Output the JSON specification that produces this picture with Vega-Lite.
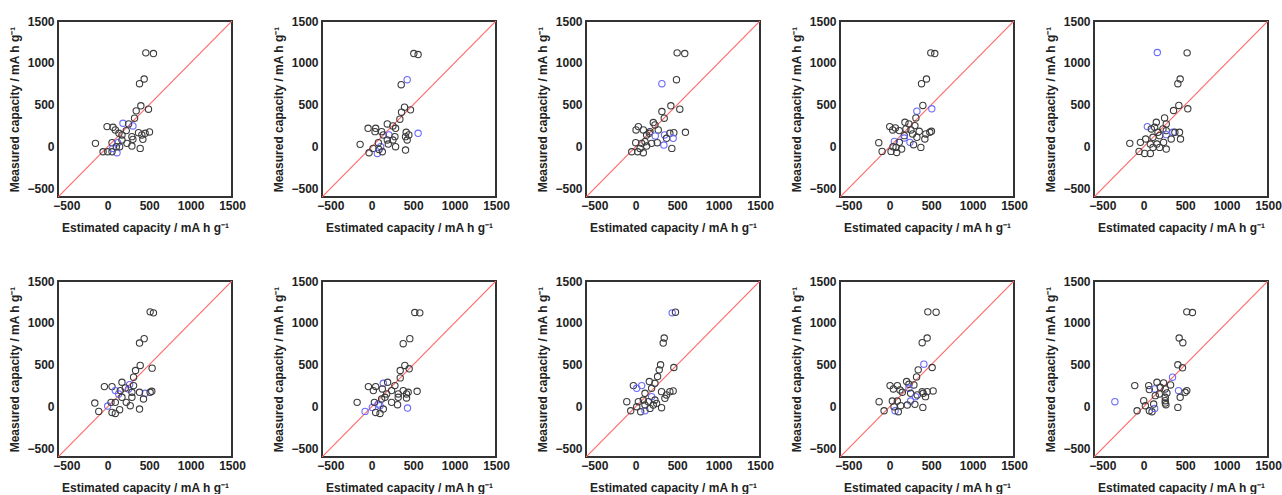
{
"$schema":"https://vega.github.io/schema/vega-lite/v6.json",
"padding":{"left":7,"top":14,"right":0,"bottom":0},
"config":{"view":{"stroke":"#333333","strokeWidth":2},
"axis":{"domain":false,"ticks":false,"grid":false,"labelFlush":false,"labelOverlap":false,"format":"d","labelFont":"Liberation Sans","labelFontWeight":"bold","labelFontSize":12,"labelColor":"#222222","titleFont":"Liberation Sans","titleFontWeight":"bold","titleFontSize":12,"titleColor":"#222222"},
"axisX":{"labelPadding":3,"titlePadding":11},
"axisY":{"labelPadding":4,"titlePadding":5}},
"datasets":{
"diag":[{"v":-600},{"v":1500}],
"pts":[
{"panel":1,"est":460,"meas":1120,"set":"train"},{"panel":1,"est":552,"meas":1112,"set":"train"},{"panel":1,"est":440,"meas":808,"set":"train"},{"panel":1,"est":384,"meas":752,"set":"train"},{"panel":1,"est":400,"meas":488,"set":"train"},{"panel":1,"est":492,"meas":448,"set":"train"},{"panel":1,"est":344,"meas":428,"set":"train"},{"panel":1,"est":324,"meas":340,"set":"train"},{"panel":1,"est":184,"meas":280,"set":"test"},{"panel":1,"est":304,"meas":248,"set":"test"},{"panel":1,"est":252,"meas":272,"set":"train"},{"panel":1,"est":-8,"meas":240,"set":"train"},{"panel":1,"est":64,"meas":232,"set":"train"},{"panel":1,"est":92,"meas":200,"set":"train"},{"panel":1,"est":136,"meas":160,"set":"train"},{"panel":1,"est":172,"meas":140,"set":"train"},{"panel":1,"est":224,"meas":192,"set":"train"},{"panel":1,"est":292,"meas":120,"set":"train"},{"panel":1,"est":304,"meas":88,"set":"train"},{"panel":1,"est":372,"meas":168,"set":"train"},{"panel":1,"est":412,"meas":140,"set":"train"},{"panel":1,"est":452,"meas":160,"set":"train"},{"panel":1,"est":504,"meas":176,"set":"train"},{"panel":1,"est":424,"meas":88,"set":"train"},{"panel":1,"est":-148,"meas":40,"set":"train"},{"panel":1,"est":-56,"meas":-60,"set":"train"},{"panel":1,"est":0,"meas":-60,"set":"train"},{"panel":1,"est":52,"meas":48,"set":"train"},{"panel":1,"est":60,"meas":-20,"set":"test"},{"panel":1,"est":112,"meas":-72,"set":"test"},{"panel":1,"est":120,"meas":48,"set":"test"},{"panel":1,"est":144,"meas":0,"set":"train"},{"panel":1,"est":232,"meas":40,"set":"train"},{"panel":1,"est":292,"meas":8,"set":"train"},{"panel":1,"est":392,"meas":-20,"set":"train"},{"panel":1,"est":52,"meas":-60,"set":"train"},{"panel":1,"est":172,"meas":80,"set":"train"},{"panel":1,"est":104,"meas":0,"set":"train"},
{"panel":2,"est":508,"meas":1112,"set":"train"},{"panel":2,"est":560,"meas":1100,"set":"train"},{"panel":2,"est":428,"meas":800,"set":"test"},{"panel":2,"est":356,"meas":740,"set":"train"},{"panel":2,"est":396,"meas":472,"set":"train"},{"panel":2,"est":468,"meas":440,"set":"train"},{"panel":2,"est":360,"meas":412,"set":"train"},{"panel":2,"est":340,"meas":328,"set":"train"},{"panel":2,"est":188,"meas":272,"set":"train"},{"panel":2,"est":256,"meas":248,"set":"train"},{"panel":2,"est":288,"meas":220,"set":"train"},{"panel":2,"est":-44,"meas":220,"set":"train"},{"panel":2,"est":48,"meas":220,"set":"train"},{"panel":2,"est":40,"meas":180,"set":"train"},{"panel":2,"est":120,"meas":180,"set":"train"},{"panel":2,"est":140,"meas":140,"set":"train"},{"panel":2,"est":208,"meas":140,"set":"test"},{"panel":2,"est":280,"meas":120,"set":"train"},{"panel":2,"est":256,"meas":80,"set":"train"},{"panel":2,"est":416,"meas":172,"set":"train"},{"panel":2,"est":448,"meas":140,"set":"train"},{"panel":2,"est":408,"meas":120,"set":"train"},{"panel":2,"est":428,"meas":80,"set":"train"},{"panel":2,"est":560,"meas":160,"set":"test"},{"panel":2,"est":-140,"meas":28,"set":"train"},{"panel":2,"est":-32,"meas":-72,"set":"train"},{"panel":2,"est":16,"meas":-20,"set":"train"},{"panel":2,"est":68,"meas":-80,"set":"test"},{"panel":2,"est":108,"meas":0,"set":"test"},{"panel":2,"est":80,"meas":48,"set":"train"},{"panel":2,"est":128,"meas":-60,"set":"train"},{"panel":2,"est":200,"meas":32,"set":"train"},{"panel":2,"est":288,"meas":0,"set":"train"},{"panel":2,"est":408,"meas":-40,"set":"train"},{"panel":2,"est":188,"meas":80,"set":"train"},{"panel":2,"est":88,"meas":-32,"set":"train"},
{"panel":3,"est":500,"meas":1120,"set":"train"},{"panel":3,"est":592,"meas":1112,"set":"train"},{"panel":3,"est":492,"meas":800,"set":"train"},{"panel":3,"est":316,"meas":752,"set":"test"},{"panel":3,"est":424,"meas":488,"set":"train"},{"panel":3,"est":532,"meas":448,"set":"train"},{"panel":3,"est":316,"meas":420,"set":"train"},{"panel":3,"est":344,"meas":340,"set":"train"},{"panel":3,"est":32,"meas":240,"set":"train"},{"panel":3,"est":4,"meas":200,"set":"train"},{"panel":3,"est":92,"meas":200,"set":"train"},{"panel":3,"est":212,"meas":288,"set":"train"},{"panel":3,"est":232,"meas":260,"set":"train"},{"panel":3,"est":272,"meas":200,"set":"train"},{"panel":3,"est":172,"meas":180,"set":"train"},{"panel":3,"est":132,"meas":140,"set":"train"},{"panel":3,"est":164,"meas":160,"set":"train"},{"panel":3,"est":236,"meas":128,"set":"test"},{"panel":3,"est":348,"meas":140,"set":"test"},{"panel":3,"est":412,"meas":160,"set":"train"},{"panel":3,"est":460,"meas":168,"set":"train"},{"panel":3,"est":600,"meas":172,"set":"train"},{"panel":3,"est":372,"meas":100,"set":"train"},{"panel":3,"est":452,"meas":100,"set":"test"},{"panel":3,"est":340,"meas":20,"set":"test"},{"panel":3,"est":436,"meas":-20,"set":"train"},{"panel":3,"est":0,"meas":48,"set":"train"},{"panel":3,"est":72,"meas":40,"set":"train"},{"panel":3,"est":112,"meas":60,"set":"train"},{"panel":3,"est":192,"meas":40,"set":"train"},{"panel":3,"est":260,"meas":48,"set":"train"},{"panel":3,"est":-48,"meas":-60,"set":"train"},{"panel":3,"est":24,"meas":-60,"set":"train"},{"panel":3,"est":92,"meas":-72,"set":"train"},{"panel":3,"est":132,"meas":8,"set":"train"},{"panel":3,"est":52,"meas":-20,"set":"train"},
{"panel":4,"est":496,"meas":1120,"set":"train"},{"panel":4,"est":544,"meas":1112,"set":"train"},{"panel":4,"est":444,"meas":808,"set":"train"},{"panel":4,"est":384,"meas":752,"set":"train"},{"panel":4,"est":400,"meas":492,"set":"train"},{"panel":4,"est":328,"meas":424,"set":"test"},{"panel":4,"est":508,"meas":452,"set":"test"},{"panel":4,"est":316,"meas":344,"set":"train"},{"panel":4,"est":0,"meas":240,"set":"train"},{"panel":4,"est":68,"meas":224,"set":"train"},{"panel":4,"est":36,"meas":200,"set":"train"},{"panel":4,"est":184,"meas":292,"set":"train"},{"panel":4,"est":232,"meas":272,"set":"train"},{"panel":4,"est":304,"meas":252,"set":"train"},{"panel":4,"est":196,"meas":212,"set":"train"},{"panel":4,"est":256,"meas":200,"set":"train"},{"panel":4,"est":116,"meas":192,"set":"train"},{"panel":4,"est":176,"meas":132,"set":"train"},{"panel":4,"est":276,"meas":152,"set":"train"},{"panel":4,"est":356,"meas":184,"set":"train"},{"panel":4,"est":436,"meas":152,"set":"train"},{"panel":4,"est":484,"meas":172,"set":"train"},{"panel":4,"est":504,"meas":184,"set":"train"},{"panel":4,"est":328,"meas":112,"set":"train"},{"panel":4,"est":424,"meas":92,"set":"train"},{"panel":4,"est":176,"meas":104,"set":"test"},{"panel":4,"est":244,"meas":52,"set":"test"},{"panel":4,"est":56,"meas":64,"set":"test"},{"panel":4,"est":-132,"meas":48,"set":"train"},{"panel":4,"est":-92,"meas":-56,"set":"train"},{"panel":4,"est":16,"meas":-56,"set":"train"},{"panel":4,"est":84,"meas":-68,"set":"train"},{"panel":4,"est":40,"meas":0,"set":"train"},{"panel":4,"est":144,"meas":-28,"set":"train"},{"panel":4,"est":288,"meas":24,"set":"train"},{"panel":4,"est":376,"meas":-8,"set":"train"},{"panel":4,"est":116,"meas":52,"set":"train"},{"panel":4,"est":76,"meas":-8,"set":"train"},
{"panel":5,"est":164,"meas":1124,"set":"test"},{"panel":5,"est":524,"meas":1120,"set":"train"},{"panel":5,"est":440,"meas":808,"set":"train"},{"panel":5,"est":412,"meas":752,"set":"train"},{"panel":5,"est":424,"meas":492,"set":"train"},{"panel":5,"est":532,"meas":452,"set":"train"},{"panel":5,"est":360,"meas":432,"set":"train"},{"panel":5,"est":252,"meas":344,"set":"train"},{"panel":5,"est":44,"meas":240,"set":"test"},{"panel":5,"est":152,"meas":292,"set":"train"},{"panel":5,"est":272,"meas":272,"set":"train"},{"panel":5,"est":132,"meas":232,"set":"train"},{"panel":5,"est":232,"meas":212,"set":"train"},{"panel":5,"est":92,"meas":212,"set":"train"},{"panel":5,"est":272,"meas":192,"set":"train"},{"panel":5,"est":172,"meas":172,"set":"train"},{"panel":5,"est":112,"meas":112,"set":"train"},{"panel":5,"est":192,"meas":132,"set":"train"},{"panel":5,"est":352,"meas":172,"set":"test"},{"panel":5,"est":272,"meas":144,"set":"test"},{"panel":5,"est":376,"meas":172,"set":"train"},{"panel":5,"est":432,"meas":172,"set":"train"},{"panel":5,"est":444,"meas":92,"set":"train"},{"panel":5,"est":332,"meas":92,"set":"train"},{"panel":5,"est":-168,"meas":40,"set":"train"},{"panel":5,"est":-56,"meas":-56,"set":"train"},{"panel":5,"est":12,"meas":-80,"set":"train"},{"panel":5,"est":80,"meas":-80,"set":"train"},{"panel":5,"est":-40,"meas":52,"set":"train"},{"panel":5,"est":24,"meas":92,"set":"train"},{"panel":5,"est":80,"meas":32,"set":"train"},{"panel":5,"est":160,"meas":32,"set":"train"},{"panel":5,"est":240,"meas":52,"set":"train"},{"panel":5,"est":272,"meas":-28,"set":"train"},{"panel":5,"est":112,"meas":-8,"set":"train"},{"panel":5,"est":192,"meas":-8,"set":"train"},
{"panel":6,"est":512,"meas":1132,"set":"train"},{"panel":6,"est":552,"meas":1120,"set":"train"},{"panel":6,"est":440,"meas":812,"set":"train"},{"panel":6,"est":384,"meas":760,"set":"train"},{"panel":6,"est":392,"meas":492,"set":"train"},{"panel":6,"est":536,"meas":460,"set":"train"},{"panel":6,"est":336,"meas":432,"set":"train"},{"panel":6,"est":312,"meas":352,"set":"train"},{"panel":6,"est":-40,"meas":240,"set":"train"},{"panel":6,"est":52,"meas":240,"set":"train"},{"panel":6,"est":172,"meas":292,"set":"train"},{"panel":6,"est":264,"meas":264,"set":"test"},{"panel":6,"est":252,"meas":212,"set":"test"},{"panel":6,"est":92,"meas":192,"set":"test"},{"panel":6,"est":132,"meas":152,"set":"test"},{"panel":6,"est":452,"meas":160,"set":"test"},{"panel":6,"est":312,"meas":252,"set":"train"},{"panel":6,"est":212,"meas":224,"set":"train"},{"panel":6,"est":152,"meas":192,"set":"train"},{"panel":6,"est":292,"meas":172,"set":"train"},{"panel":6,"est":384,"meas":172,"set":"train"},{"panel":6,"est":512,"meas":172,"set":"train"},{"panel":6,"est":532,"meas":184,"set":"train"},{"panel":6,"est":432,"meas":92,"set":"train"},{"panel":6,"est":292,"meas":112,"set":"train"},{"panel":6,"est":172,"meas":112,"set":"train"},{"panel":6,"est":-156,"meas":44,"set":"train"},{"panel":6,"est":-108,"meas":-56,"set":"train"},{"panel":6,"est":0,"meas":8,"set":"test"},{"panel":6,"est":52,"meas":-68,"set":"train"},{"panel":6,"est":92,"meas":-80,"set":"train"},{"panel":6,"est":92,"meas":52,"set":"train"},{"panel":6,"est":144,"meas":-36,"set":"train"},{"panel":6,"est":224,"meas":52,"set":"train"},{"panel":6,"est":272,"meas":12,"set":"train"},{"panel":6,"est":384,"meas":-28,"set":"train"},{"panel":6,"est":40,"meas":52,"set":"train"},
{"panel":7,"est":520,"meas":1124,"set":"train"},{"panel":7,"est":580,"meas":1120,"set":"train"},{"panel":7,"est":460,"meas":812,"set":"train"},{"panel":7,"est":380,"meas":752,"set":"train"},{"panel":7,"est":400,"meas":492,"set":"train"},{"panel":7,"est":452,"meas":452,"set":"train"},{"panel":7,"est":344,"meas":432,"set":"train"},{"panel":7,"est":344,"meas":344,"set":"train"},{"panel":7,"est":140,"meas":280,"set":"test"},{"panel":7,"est":192,"meas":292,"set":"train"},{"panel":7,"est":-40,"meas":240,"set":"train"},{"panel":7,"est":48,"meas":240,"set":"train"},{"panel":7,"est":20,"meas":192,"set":"train"},{"panel":7,"est":128,"meas":212,"set":"train"},{"panel":7,"est":280,"meas":252,"set":"train"},{"panel":7,"est":240,"meas":192,"set":"train"},{"panel":7,"est":180,"meas":152,"set":"train"},{"panel":7,"est":160,"meas":112,"set":"train"},{"panel":7,"est":320,"meas":152,"set":"train"},{"panel":7,"est":380,"meas":192,"set":"train"},{"panel":7,"est":420,"meas":152,"set":"train"},{"panel":7,"est":440,"meas":172,"set":"train"},{"panel":7,"est":548,"meas":184,"set":"train"},{"panel":7,"est":420,"meas":104,"set":"train"},{"panel":7,"est":320,"meas":112,"set":"train"},{"panel":7,"est":-176,"meas":52,"set":"train"},{"panel":7,"est":-80,"meas":-56,"set":"test"},{"panel":7,"est":8,"meas":-8,"set":"test"},{"panel":7,"est":80,"meas":32,"set":"test"},{"panel":7,"est":100,"meas":12,"set":"test"},{"panel":7,"est":432,"meas":-16,"set":"test"},{"panel":7,"est":48,"meas":-68,"set":"train"},{"panel":7,"est":100,"meas":-80,"set":"train"},{"panel":7,"est":140,"meas":-28,"set":"train"},{"panel":7,"est":32,"meas":52,"set":"train"},{"panel":7,"est":240,"meas":52,"set":"train"},{"panel":7,"est":312,"meas":24,"set":"train"},{"panel":7,"est":120,"meas":92,"set":"train"},
{"panel":8,"est":440,"meas":1120,"set":"test"},{"panel":8,"est":480,"meas":1128,"set":"train"},{"panel":8,"est":344,"meas":820,"set":"train"},{"panel":8,"est":332,"meas":760,"set":"train"},{"panel":8,"est":300,"meas":500,"set":"train"},{"panel":8,"est":284,"meas":440,"set":"train"},{"panel":8,"est":460,"meas":468,"set":"train"},{"panel":8,"est":264,"meas":360,"set":"train"},{"panel":8,"est":-28,"meas":252,"set":"train"},{"panel":8,"est":12,"meas":220,"set":"test"},{"panel":8,"est":72,"meas":252,"set":"test"},{"panel":8,"est":164,"meas":300,"set":"train"},{"panel":8,"est":232,"meas":280,"set":"train"},{"panel":8,"est":192,"meas":220,"set":"train"},{"panel":8,"est":112,"meas":160,"set":"train"},{"panel":8,"est":192,"meas":120,"set":"test"},{"panel":8,"est":312,"meas":180,"set":"train"},{"panel":8,"est":412,"meas":180,"set":"train"},{"panel":8,"est":452,"meas":188,"set":"train"},{"panel":8,"est":372,"meas":140,"set":"train"},{"panel":8,"est":352,"meas":100,"set":"train"},{"panel":8,"est":232,"meas":80,"set":"train"},{"panel":8,"est":-108,"meas":60,"set":"train"},{"panel":8,"est":-60,"meas":-48,"set":"train"},{"panel":8,"est":12,"meas":0,"set":"train"},{"panel":8,"est":32,"meas":60,"set":"train"},{"panel":8,"est":60,"meas":-60,"set":"train"},{"panel":8,"est":112,"meas":-48,"set":"test"},{"panel":8,"est":112,"meas":20,"set":"train"},{"panel":8,"est":172,"meas":-20,"set":"train"},{"panel":8,"est":252,"meas":40,"set":"train"},{"panel":8,"est":312,"meas":-12,"set":"train"},{"panel":8,"est":92,"meas":80,"set":"train"},{"panel":8,"est":212,"meas":20,"set":"train"},{"panel":8,"est":152,"meas":60,"set":"train"},
{"panel":9,"est":460,"meas":1132,"set":"train"},{"panel":9,"est":560,"meas":1128,"set":"train"},{"panel":9,"est":452,"meas":820,"set":"train"},{"panel":9,"est":392,"meas":764,"set":"train"},{"panel":9,"est":412,"meas":508,"set":"test"},{"panel":9,"est":512,"meas":468,"set":"train"},{"panel":9,"est":344,"meas":440,"set":"train"},{"panel":9,"est":324,"meas":356,"set":"train"},{"panel":9,"est":4,"meas":252,"set":"train"},{"panel":9,"est":92,"meas":252,"set":"train"},{"panel":9,"est":44,"meas":212,"set":"train"},{"panel":9,"est":124,"meas":200,"set":"train"},{"panel":9,"est":204,"meas":300,"set":"train"},{"panel":9,"est":232,"meas":268,"set":"train"},{"panel":9,"est":292,"meas":260,"set":"train"},{"panel":9,"est":232,"meas":220,"set":"test"},{"panel":9,"est":152,"meas":172,"set":"train"},{"panel":9,"est":252,"meas":160,"set":"train"},{"panel":9,"est":312,"meas":120,"set":"test"},{"panel":9,"est":332,"meas":140,"set":"train"},{"panel":9,"est":392,"meas":180,"set":"train"},{"panel":9,"est":452,"meas":180,"set":"train"},{"panel":9,"est":524,"meas":188,"set":"train"},{"panel":9,"est":432,"meas":120,"set":"train"},{"panel":9,"est":404,"meas":160,"set":"train"},{"panel":9,"est":252,"meas":68,"set":"test"},{"panel":9,"est":-128,"meas":60,"set":"train"},{"panel":9,"est":-68,"meas":-48,"set":"train"},{"panel":9,"est":64,"meas":-48,"set":"test"},{"panel":9,"est":32,"meas":68,"set":"train"},{"panel":9,"est":92,"meas":68,"set":"train"},{"panel":9,"est":104,"meas":-60,"set":"train"},{"panel":9,"est":132,"meas":12,"set":"train"},{"panel":9,"est":212,"meas":20,"set":"train"},{"panel":9,"est":304,"meas":28,"set":"train"},{"panel":9,"est":400,"meas":-8,"set":"train"},{"panel":9,"est":52,"meas":0,"set":"train"},
{"panel":10,"est":520,"meas":1132,"set":"train"},{"panel":10,"est":588,"meas":1124,"set":"train"},{"panel":10,"est":428,"meas":820,"set":"train"},{"panel":10,"est":472,"meas":764,"set":"train"},{"panel":10,"est":412,"meas":500,"set":"train"},{"panel":10,"est":468,"meas":464,"set":"train"},{"panel":10,"est":348,"meas":352,"set":"test"},{"panel":10,"est":324,"meas":260,"set":"train"},{"panel":10,"est":-108,"meas":252,"set":"train"},{"panel":10,"est":60,"meas":252,"set":"train"},{"panel":10,"est":68,"meas":204,"set":"train"},{"panel":10,"est":132,"meas":212,"set":"test"},{"panel":10,"est":160,"meas":292,"set":"train"},{"panel":10,"est":240,"meas":284,"set":"train"},{"panel":10,"est":200,"meas":232,"set":"train"},{"panel":10,"est":260,"meas":212,"set":"train"},{"panel":10,"est":280,"meas":164,"set":"train"},{"panel":10,"est":188,"meas":152,"set":"train"},{"panel":10,"est":140,"meas":132,"set":"train"},{"panel":10,"est":420,"meas":192,"set":"test"},{"panel":10,"est":520,"meas":192,"set":"train"},{"panel":10,"est":500,"meas":172,"set":"train"},{"panel":10,"est":440,"meas":112,"set":"train"},{"panel":10,"est":260,"meas":112,"set":"train"},{"panel":10,"est":-348,"meas":60,"set":"test"},{"panel":10,"est":-80,"meas":-48,"set":"train"},{"panel":10,"est":0,"meas":72,"set":"train"},{"panel":10,"est":20,"meas":12,"set":"train"},{"panel":10,"est":68,"meas":-48,"set":"train"},{"panel":10,"est":100,"meas":-60,"set":"train"},{"panel":10,"est":132,"meas":-20,"set":"test"},{"panel":10,"est":120,"meas":32,"set":"train"},{"panel":10,"est":260,"meas":44,"set":"train"},{"panel":10,"est":268,"meas":24,"set":"train"},{"panel":10,"est":412,"meas":-8,"set":"train"},{"panel":10,"est":260,"meas":72,"set":"train"}
]},
"spacing":40,
"vconcat":[
{"spacing":14,"hconcat":[
{"spacing":24,"hconcat":[
{"width":174,"height":176,"layer":[
{"data":{"name":"diag"},"mark":{"type":"line","color":"#ff6b6b","strokeWidth":1.2,"clip":true},"encoding":{"x":{"field":"v","type":"quantitative","scale":{"domain":[-600,1500],"nice":false,"zero":false},"axis":{"values":[-500,0,500,1000,1500]},"title":"Estimated capacity / mA h g⁻¹"},"y":{"field":"v","type":"quantitative","scale":{"domain":[-600,1500],"nice":false,"zero":false},"axis":{"values":[-500,0,500,1000,1500]},"title":"Measured capacity / mA h g⁻¹"}}},
{"data":{"name":"pts"},"transform":[{"filter":"datum.panel==1"}],"mark":{"type":"point","shape":"circle","size":40,"strokeWidth":1.1,"opacity":1},"encoding":{"x":{"field":"est","type":"quantitative","title":"Estimated capacity / mA h g⁻¹"},"y":{"field":"meas","type":"quantitative","title":"Measured capacity / mA h g⁻¹"},"color":{"field":"set","type":"nominal","scale":{"domain":["train","test"],"range":["#3c3c3c","#6a6aff"]},"legend":null}}}]},
{"width":174,"height":176,"layer":[
{"data":{"name":"diag"},"mark":{"type":"line","color":"#ff6b6b","strokeWidth":1.2,"clip":true},"encoding":{"x":{"field":"v","type":"quantitative","scale":{"domain":[-600,1500],"nice":false,"zero":false},"axis":{"values":[-500,0,500,1000,1500]},"title":"Estimated capacity / mA h g⁻¹"},"y":{"field":"v","type":"quantitative","scale":{"domain":[-600,1500],"nice":false,"zero":false},"axis":{"values":[-500,0,500,1000,1500]},"title":"Measured capacity / mA h g⁻¹"}}},
{"data":{"name":"pts"},"transform":[{"filter":"datum.panel==2"}],"mark":{"type":"point","shape":"circle","size":40,"strokeWidth":1.1,"opacity":1},"encoding":{"x":{"field":"est","type":"quantitative","title":"Estimated capacity / mA h g⁻¹"},"y":{"field":"meas","type":"quantitative","title":"Measured capacity / mA h g⁻¹"},"color":{"field":"set","type":"nominal","scale":{"domain":["train","test"],"range":["#3c3c3c","#6a6aff"]},"legend":null}}}]},
{"width":174,"height":176,"layer":[
{"data":{"name":"diag"},"mark":{"type":"line","color":"#ff6b6b","strokeWidth":1.2,"clip":true},"encoding":{"x":{"field":"v","type":"quantitative","scale":{"domain":[-600,1500],"nice":false,"zero":false},"axis":{"values":[-500,0,500,1000,1500]},"title":"Estimated capacity / mA h g⁻¹"},"y":{"field":"v","type":"quantitative","scale":{"domain":[-600,1500],"nice":false,"zero":false},"axis":{"values":[-500,0,500,1000,1500]},"title":"Measured capacity / mA h g⁻¹"}}},
{"data":{"name":"pts"},"transform":[{"filter":"datum.panel==3"}],"mark":{"type":"point","shape":"circle","size":40,"strokeWidth":1.1,"opacity":1},"encoding":{"x":{"field":"est","type":"quantitative","title":"Estimated capacity / mA h g⁻¹"},"y":{"field":"meas","type":"quantitative","title":"Measured capacity / mA h g⁻¹"},"color":{"field":"set","type":"nominal","scale":{"domain":["train","test"],"range":["#3c3c3c","#6a6aff"]},"legend":null}}}]}
]},
{"width":174,"height":176,"layer":[
{"data":{"name":"diag"},"mark":{"type":"line","color":"#ff6b6b","strokeWidth":1.2,"clip":true},"encoding":{"x":{"field":"v","type":"quantitative","scale":{"domain":[-600,1500],"nice":false,"zero":false},"axis":{"values":[-500,0,500,1000,1500]},"title":"Estimated capacity / mA h g⁻¹"},"y":{"field":"v","type":"quantitative","scale":{"domain":[-600,1500],"nice":false,"zero":false},"axis":{"values":[-500,0,500,1000,1500]},"title":"Measured capacity / mA h g⁻¹"}}},
{"data":{"name":"pts"},"transform":[{"filter":"datum.panel==4"}],"mark":{"type":"point","shape":"circle","size":40,"strokeWidth":1.1,"opacity":1},"encoding":{"x":{"field":"est","type":"quantitative","title":"Estimated capacity / mA h g⁻¹"},"y":{"field":"meas","type":"quantitative","title":"Measured capacity / mA h g⁻¹"},"color":{"field":"set","type":"nominal","scale":{"domain":["train","test"],"range":["#3c3c3c","#6a6aff"]},"legend":null}}}]},
{"width":174,"height":176,"layer":[
{"data":{"name":"diag"},"mark":{"type":"line","color":"#ff6b6b","strokeWidth":1.2,"clip":true},"encoding":{"x":{"field":"v","type":"quantitative","scale":{"domain":[-600,1500],"nice":false,"zero":false},"axis":{"values":[-500,0,500,1000,1500]},"title":"Estimated capacity / mA h g⁻¹"},"y":{"field":"v","type":"quantitative","scale":{"domain":[-600,1500],"nice":false,"zero":false},"axis":{"values":[-500,0,500,1000,1500]},"title":"Measured capacity / mA h g⁻¹"}}},
{"data":{"name":"pts"},"transform":[{"filter":"datum.panel==5"}],"mark":{"type":"point","shape":"circle","size":40,"strokeWidth":1.1,"opacity":1},"encoding":{"x":{"field":"est","type":"quantitative","title":"Estimated capacity / mA h g⁻¹"},"y":{"field":"meas","type":"quantitative","title":"Measured capacity / mA h g⁻¹"},"color":{"field":"set","type":"nominal","scale":{"domain":["train","test"],"range":["#3c3c3c","#6a6aff"]},"legend":null}}}]}
]},
{"spacing":14,"hconcat":[
{"spacing":24,"hconcat":[
{"width":174,"height":176,"layer":[
{"data":{"name":"diag"},"mark":{"type":"line","color":"#ff6b6b","strokeWidth":1.2,"clip":true},"encoding":{"x":{"field":"v","type":"quantitative","scale":{"domain":[-600,1500],"nice":false,"zero":false},"axis":{"values":[-500,0,500,1000,1500]},"title":"Estimated capacity / mA h g⁻¹"},"y":{"field":"v","type":"quantitative","scale":{"domain":[-600,1500],"nice":false,"zero":false},"axis":{"values":[-500,0,500,1000,1500]},"title":"Measured capacity / mA h g⁻¹"}}},
{"data":{"name":"pts"},"transform":[{"filter":"datum.panel==6"}],"mark":{"type":"point","shape":"circle","size":40,"strokeWidth":1.1,"opacity":1},"encoding":{"x":{"field":"est","type":"quantitative","title":"Estimated capacity / mA h g⁻¹"},"y":{"field":"meas","type":"quantitative","title":"Measured capacity / mA h g⁻¹"},"color":{"field":"set","type":"nominal","scale":{"domain":["train","test"],"range":["#3c3c3c","#6a6aff"]},"legend":null}}}]},
{"width":174,"height":176,"layer":[
{"data":{"name":"diag"},"mark":{"type":"line","color":"#ff6b6b","strokeWidth":1.2,"clip":true},"encoding":{"x":{"field":"v","type":"quantitative","scale":{"domain":[-600,1500],"nice":false,"zero":false},"axis":{"values":[-500,0,500,1000,1500]},"title":"Estimated capacity / mA h g⁻¹"},"y":{"field":"v","type":"quantitative","scale":{"domain":[-600,1500],"nice":false,"zero":false},"axis":{"values":[-500,0,500,1000,1500]},"title":"Measured capacity / mA h g⁻¹"}}},
{"data":{"name":"pts"},"transform":[{"filter":"datum.panel==7"}],"mark":{"type":"point","shape":"circle","size":40,"strokeWidth":1.1,"opacity":1},"encoding":{"x":{"field":"est","type":"quantitative","title":"Estimated capacity / mA h g⁻¹"},"y":{"field":"meas","type":"quantitative","title":"Measured capacity / mA h g⁻¹"},"color":{"field":"set","type":"nominal","scale":{"domain":["train","test"],"range":["#3c3c3c","#6a6aff"]},"legend":null}}}]},
{"width":174,"height":176,"layer":[
{"data":{"name":"diag"},"mark":{"type":"line","color":"#ff6b6b","strokeWidth":1.2,"clip":true},"encoding":{"x":{"field":"v","type":"quantitative","scale":{"domain":[-600,1500],"nice":false,"zero":false},"axis":{"values":[-500,0,500,1000,1500]},"title":"Estimated capacity / mA h g⁻¹"},"y":{"field":"v","type":"quantitative","scale":{"domain":[-600,1500],"nice":false,"zero":false},"axis":{"values":[-500,0,500,1000,1500]},"title":"Measured capacity / mA h g⁻¹"}}},
{"data":{"name":"pts"},"transform":[{"filter":"datum.panel==8"}],"mark":{"type":"point","shape":"circle","size":40,"strokeWidth":1.1,"opacity":1},"encoding":{"x":{"field":"est","type":"quantitative","title":"Estimated capacity / mA h g⁻¹"},"y":{"field":"meas","type":"quantitative","title":"Measured capacity / mA h g⁻¹"},"color":{"field":"set","type":"nominal","scale":{"domain":["train","test"],"range":["#3c3c3c","#6a6aff"]},"legend":null}}}]}
]},
{"width":174,"height":176,"layer":[
{"data":{"name":"diag"},"mark":{"type":"line","color":"#ff6b6b","strokeWidth":1.2,"clip":true},"encoding":{"x":{"field":"v","type":"quantitative","scale":{"domain":[-600,1500],"nice":false,"zero":false},"axis":{"values":[-500,0,500,1000,1500]},"title":"Estimated capacity / mA h g⁻¹"},"y":{"field":"v","type":"quantitative","scale":{"domain":[-600,1500],"nice":false,"zero":false},"axis":{"values":[-500,0,500,1000,1500]},"title":"Measured capacity / mA h g⁻¹"}}},
{"data":{"name":"pts"},"transform":[{"filter":"datum.panel==9"}],"mark":{"type":"point","shape":"circle","size":40,"strokeWidth":1.1,"opacity":1},"encoding":{"x":{"field":"est","type":"quantitative","title":"Estimated capacity / mA h g⁻¹"},"y":{"field":"meas","type":"quantitative","title":"Measured capacity / mA h g⁻¹"},"color":{"field":"set","type":"nominal","scale":{"domain":["train","test"],"range":["#3c3c3c","#6a6aff"]},"legend":null}}}]},
{"width":174,"height":176,"layer":[
{"data":{"name":"diag"},"mark":{"type":"line","color":"#ff6b6b","strokeWidth":1.2,"clip":true},"encoding":{"x":{"field":"v","type":"quantitative","scale":{"domain":[-600,1500],"nice":false,"zero":false},"axis":{"values":[-500,0,500,1000,1500]},"title":"Estimated capacity / mA h g⁻¹"},"y":{"field":"v","type":"quantitative","scale":{"domain":[-600,1500],"nice":false,"zero":false},"axis":{"values":[-500,0,500,1000,1500]},"title":"Measured capacity / mA h g⁻¹"}}},
{"data":{"name":"pts"},"transform":[{"filter":"datum.panel==10"}],"mark":{"type":"point","shape":"circle","size":40,"strokeWidth":1.1,"opacity":1},"encoding":{"x":{"field":"est","type":"quantitative","title":"Estimated capacity / mA h g⁻¹"},"y":{"field":"meas","type":"quantitative","title":"Measured capacity / mA h g⁻¹"},"color":{"field":"set","type":"nominal","scale":{"domain":["train","test"],"range":["#3c3c3c","#6a6aff"]},"legend":null}}}]}
]}
]
}
